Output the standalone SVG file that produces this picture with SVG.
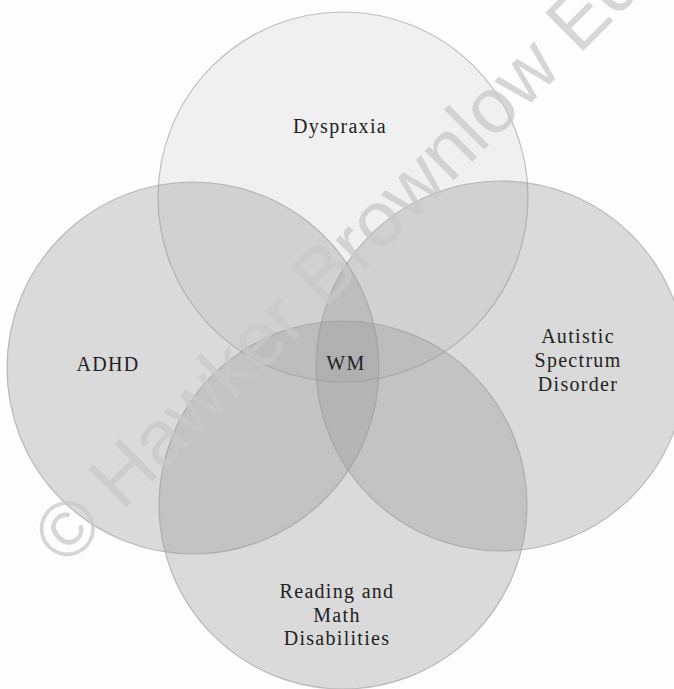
<svg xmlns="http://www.w3.org/2000/svg" width="674" height="689" viewBox="0 0 674 689">
<style>
.bg{fill:#fdfdfd}
.c{fill:#999999;fill-opacity:0.35;stroke:#9a9a9a;stroke-opacity:0.6;stroke-width:1.2}
.top{fill:#e6e6e6;fill-opacity:0.55;stroke:#9a9a9a;stroke-opacity:0.6;stroke-width:1.2}
.t{font-family:"Liberation Serif","Times New Roman",serif;font-size:20px;letter-spacing:1.3px;fill:#222;text-anchor:middle}
.wm{font-family:"Liberation Sans",Arial,sans-serif;font-size:78px;fill:#c8c8c8;fill-opacity:0.75}
</style>
<rect class="bg" x="0" y="0" width="674" height="689"/>
<g id="dyspraxia">
<circle class="top" cx="343" cy="197" r="185"/>
</g>
<g id="adhd">
<circle class="c" cx="193" cy="368" r="186"/>
</g>
<g id="autistic">
<circle class="c" cx="501" cy="366" r="185"/>
</g>
<g id="reading">
<circle class="c" cx="343" cy="505" r="184"/>
</g>
<g id="connectors"></g>
<g id="labels">
<text class="t" x="340" y="133">Dyspraxia</text>
<text class="t" x="108" y="371">ADHD</text>
<text class="t" x="346" y="370">WM</text>
<text class="t" x="578" y="343">Autistic</text>
<text class="t" x="578" y="367">Spectrum</text>
<text class="t" x="578" y="391">Disorder</text>
<text class="t" x="337" y="598">Reading and</text>
<text class="t" x="337" y="622">Math</text>
<text class="t" x="337" y="645">Disabilities</text>
</g>
<text class="wm" transform="translate(66,568) rotate(-45)">© Hawker Brownlow Ed</text>
</svg>
